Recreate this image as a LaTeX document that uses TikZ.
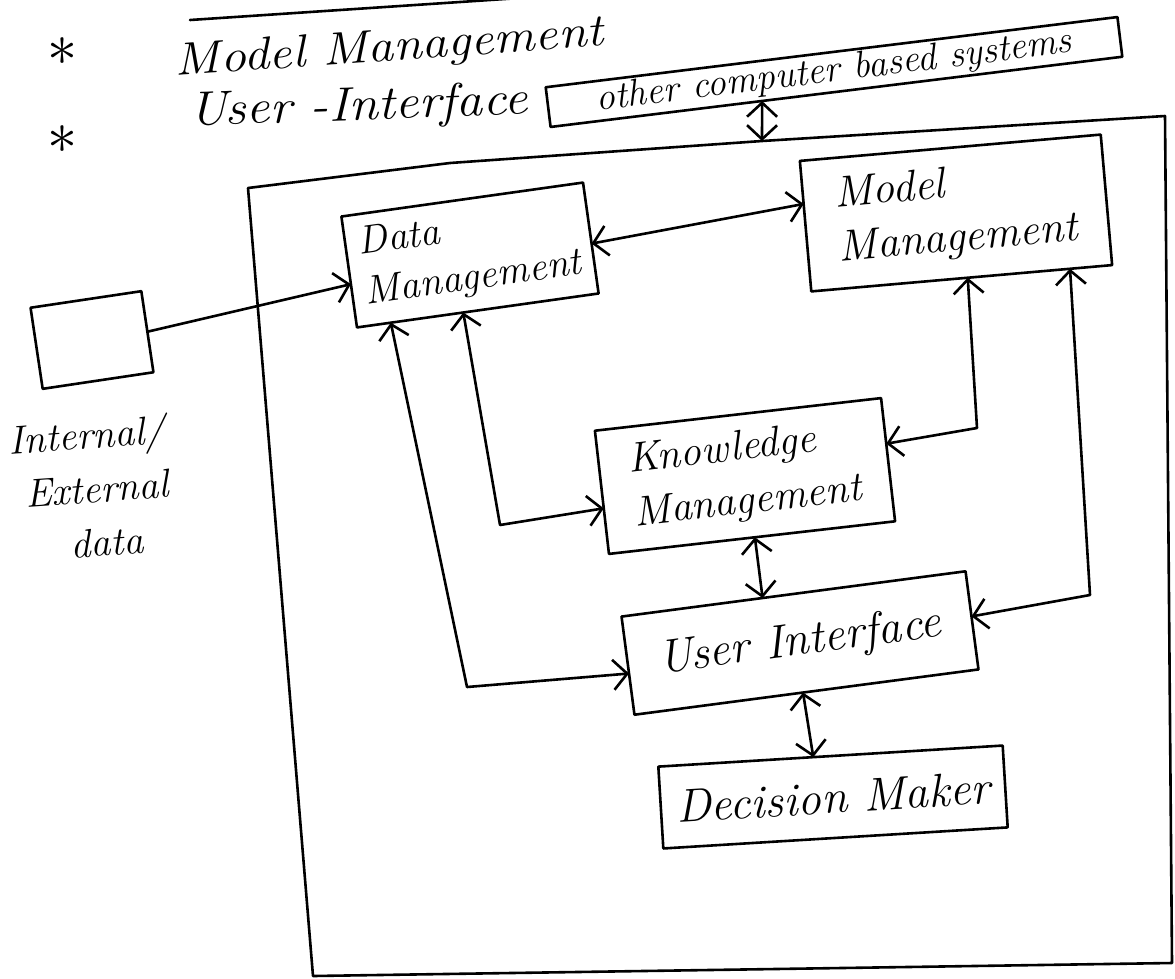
\documentclass[tikz,border=0pt]{standalone}
\usepackage{graphicx}
\usetikzlibrary{arrows.meta,calc}
\begin{document}
\begin{tikzpicture}[x=1pt,y=-1pt,
  >={Straight Barb[length=14pt,width=30pt]},
  pen/.style={line width=2.6pt, line join=round, line cap=round},
  box/.style={draw, pen, rectangle, inner sep=0pt, outer sep=0pt, align=left},
  link/.style={pen},
  hw/.style 2 args={font=\fontsize{#1}{#2}\selectfont\itshape},
  star/.style={inner sep=0pt},
]
\useasboundingbox (0,0) rectangle (1175,978);

% notes at the top left
\draw[pen] (190,20) -- (520,-2);
\node[star] (b1) at (62,52) {\scalebox{6}{$\ast$}};
\node[star] (b2) at (62,140) {\scalebox{6}{$\ast$}};
\node[hw={46}{56}, rotate=4, xscale=1.12, anchor=base west] (t1) at (172,76) {Model Management};
\node[hw={48}{56}, rotate=2, xscale=1.1, anchor=base west] (t2) at (186,126) {User -Interface};

% other computer based systems
\node[box, rotate=7, minimum width=576, minimum height=40, hw={38}{44}, align=center] (oth) at (834,72) {other computer based systems};

% outer system boundary
\coordinate (otop) at (762,141);
\draw[pen] (248,188) -- (450,163) -- (otop) -- (1165,116) -- (1172,963) -- (313,976) -- cycle;

% boxes
\node[box, rotate=8.5, minimum width=112, minimum height=82] (ext) at (92,340) {};
\node[hw={40}{54}, rotate=4, align=center] (extl) at (90,488) {Internal/\\\hspace*{14pt}External\\\hspace*{26pt}data};

\node[box, rotate=8, minimum width=244, minimum height=112, hw={40}{50}] (dm) at (470,255) {Data\\Management};
\node[box, rotate=5, minimum width=302, minimum height=131, hw={44}{54}] (mm) at (956,213) {Model\\Management};
\node[box, rotate=6.5, minimum width=288, minimum height=124, hw={42}{54}] (km) at (745,476) {Knowledge\\Management};
\node[box, rotate=7.5, minimum width=347, minimum height=99, hw={47}{56}] (ui) at (800,643) {User Interface};
\node[box, rotate=3.5, minimum width=345, minimum height=82, hw={47}{56}] (dk) at (833,797) {Decision Maker};

% connector end points on the box sides
\coordinate (othB) at ($(oth.south west)!0.37!(oth.south east)$);
\coordinate (dmL)  at ($(dm.north west)!0.61!(dm.south west)$);
\coordinate (dmR)  at ($(dm.north east)!0.55!(dm.south east)$);
\coordinate (dmB1) at ($(dm.south west)!0.14!(dm.south east)$);
\coordinate (dmB2) at ($(dm.south west)!0.44!(dm.south east)$);
\coordinate (mmL)  at ($(mm.north west)!0.33!(mm.south west)$);
\coordinate (mmB1) at ($(mm.south west)!0.52!(mm.south east)$);
\coordinate (mmB2) at ($(mm.south west)!0.86!(mm.south east)$);
\coordinate (kmL)  at ($(km.north west)!0.63!(km.south west)$);
\coordinate (kmR)  at ($(km.north east)!0.37!(km.south east)$);
\coordinate (kmB)  at ($(km.south west)!0.51!(km.south east)$);
\coordinate (uiT)  at ($(ui.north west)!0.41!(ui.north east)$);
\coordinate (uiL)  at ($(ui.north west)!0.58!(ui.south west)$);
\coordinate (uiR)  at ($(ui.north east)!0.46!(ui.south east)$);
\coordinate (uiB)  at ($(ui.south west)!0.49!(ui.south east)$);
\coordinate (dkT)  at ($(dk.north west)!0.45!(dk.north east)$);
\coordinate (c1) at (500,525);
\coordinate (c2) at (467,687);
\coordinate (c3) at (977,428);
\coordinate (c4) at (1090,595);

% connectors
\draw[link,<->] (othB) -- (otop);
\draw[link,->] (ext.east) -- (dmL);
\draw[link,<->] (dmR) -- (mmL);
\draw[link,<->] (dmB2) -- (c1) -- (kmL);
\draw[link,<->] (dmB1) -- (c2) -- (uiL);
\draw[link,<->] (mmB1) -- (c3) -- (kmR);
\draw[link,<->] (mmB2) -- (c4) -- (uiR);
\draw[link,<->] (kmB) -- (uiT);
\draw[link,<->] (uiB) -- (dkT);
\end{tikzpicture}
\end{document}
